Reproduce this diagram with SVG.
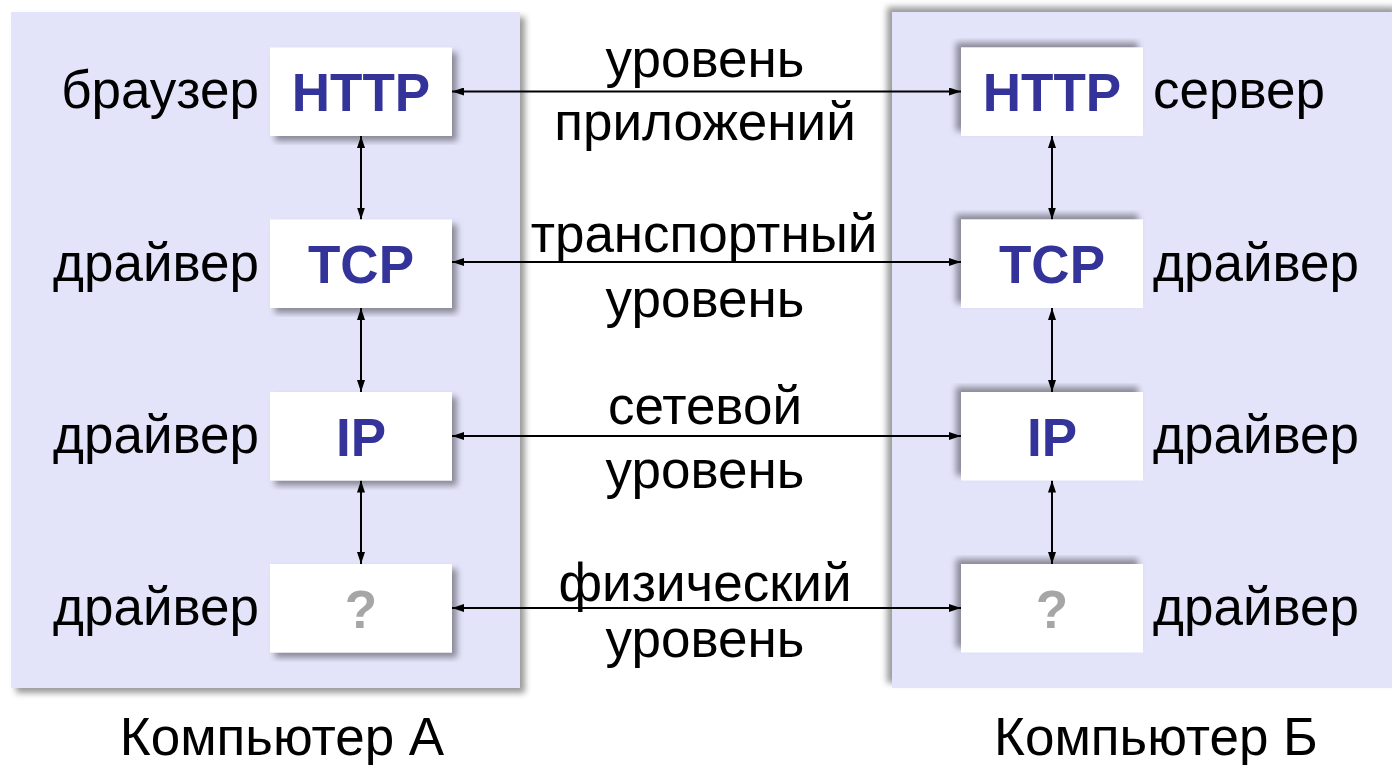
<svg xmlns="http://www.w3.org/2000/svg" width="1392" height="765" viewBox="0 0 1392 765">
<style>
.panel{fill:#E3E3FA}
.box{fill:#FFFFFF}
.lbl{font-family:"Liberation Sans",Arial,sans-serif;font-size:53px;fill:#000}
.proto{font-family:"Liberation Sans",Arial,sans-serif;font-size:53px;font-weight:bold;fill:#333399;text-anchor:middle}
.q{fill:#A6A6A6}
.mid{font-family:"Liberation Sans",Arial,sans-serif;font-size:53px;fill:#000;text-anchor:middle}
.conn{stroke:#000;stroke-width:2;fill:none;marker-start:url(#ah);marker-end:url(#ah)}
</style>
<defs>
<filter id="shL" x="-10%" y="-10%" width="120%" height="120%">
<feDropShadow dx="5" dy="5" stdDeviation="3" flood-color="#000" flood-opacity="0.4"/>
</filter>
<filter id="shR" x="-10%" y="-10%" width="120%" height="120%">
<feDropShadow dx="-5" dy="-5" stdDeviation="3" flood-color="#000" flood-opacity="0.4"/>
</filter>
<marker id="ah" viewBox="0 0 12 8" refX="12" refY="4" markerWidth="12" markerHeight="8" markerUnits="userSpaceOnUse" orient="auto-start-reverse">
<path d="M0,0 L12,4 L0,8 z" fill="#000"/>
</marker>
</defs>
<rect width="1392" height="765" fill="#FFFFFF"/>
<g id="computerA">
<rect class="panel" x="11" y="12" width="509" height="676" filter="url(#shL)"/>
</g>
<g id="computerB">
<rect class="panel" x="892" y="12" width="510" height="676" filter="url(#shR)"/>
</g>
<g id="connectors">
<line class="conn" x1="452" y1="91.5" x2="961" y2="91.5"/>
<line class="conn" x1="452" y1="262" x2="961" y2="262"/>
<line class="conn" x1="452" y1="436" x2="961" y2="436"/>
<line class="conn" x1="452" y1="608" x2="961" y2="608"/>
<line class="conn" x1="361" y1="136" x2="361" y2="219.5"/>
<line class="conn" x1="361" y1="308" x2="361" y2="392"/>
<line class="conn" x1="361" y1="480.5" x2="361" y2="564"/>
<line class="conn" x1="1052" y1="136" x2="1052" y2="219.5"/>
<line class="conn" x1="1052" y1="308" x2="1052" y2="392"/>
<line class="conn" x1="1052" y1="480.5" x2="1052" y2="564"/>
</g>
<g id="a-http">
<rect class="box" x="270" y="47.5" width="182" height="88.5" filter="url(#shL)"/>
<text class="proto" x="361" y="111">HTTP</text>
<text class="lbl" x="259" y="108" text-anchor="end">браузер</text>
</g>
<g id="a-tcp">
<rect class="box" x="270" y="219.5" width="182" height="88.5" filter="url(#shL)"/>
<text class="proto" x="361" y="283.3">TCP</text>
<text class="lbl" x="259" y="281" text-anchor="end">драйвер</text>
</g>
<g id="a-ip">
<rect class="box" x="270" y="392" width="182" height="88.5" filter="url(#shL)"/>
<text class="proto" x="361" y="455.5">IP</text>
<text class="lbl" x="259" y="453" text-anchor="end">драйвер</text>
</g>
<g id="a-phys">
<rect class="box" x="270" y="564" width="182" height="88.5" filter="url(#shL)"/>
<text class="proto q" x="361" y="627.5">?</text>
<text class="lbl" x="259" y="625" text-anchor="end">драйвер</text>
</g>
<g id="b-http">
<rect class="box" x="961" y="47.5" width="182" height="88.5" filter="url(#shR)"/>
<text class="proto" x="1052" y="111">HTTP</text>
<text class="lbl" x="1153" y="108">сервер</text>
</g>
<g id="b-tcp">
<rect class="box" x="961" y="219.5" width="182" height="88.5" filter="url(#shR)"/>
<text class="proto" x="1052" y="283.3">TCP</text>
<text class="lbl" x="1153" y="281">драйвер</text>
</g>
<g id="b-ip">
<rect class="box" x="961" y="392" width="182" height="88.5" filter="url(#shR)"/>
<text class="proto" x="1052" y="455.5">IP</text>
<text class="lbl" x="1153" y="453">драйвер</text>
</g>
<g id="b-phys">
<rect class="box" x="961" y="564" width="182" height="88.5" filter="url(#shR)"/>
<text class="proto q" x="1052" y="627.5">?</text>
<text class="lbl" x="1153" y="625">драйвер</text>
</g>
<g id="layer-labels">
<text class="mid" x="705" y="76.7">уровень</text>
<text class="mid" x="705" y="140">приложений</text>
<text class="mid" x="704" y="251.7">транспортный</text>
<text class="mid" x="705" y="316.7">уровень</text>
<text class="mid" x="705" y="424.3">сетевой</text>
<text class="mid" x="705" y="488">уровень</text>
<text class="mid" x="705" y="601">физический</text>
<text class="mid" x="705" y="656.7">уровень</text>
</g>
<g id="captions">
<text class="mid" x="282" y="755">Компьютер А</text>
<text class="mid" x="1156" y="755">Компьютер Б</text>
</g>
</svg>
